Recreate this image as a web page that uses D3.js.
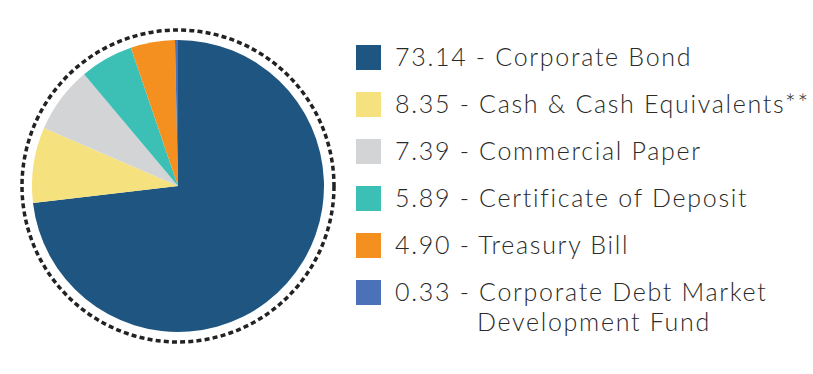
<!DOCTYPE html>
<html>
  <head>
    <script src="https://d3js.org/d3.v7.min.js"></script>
    <style>
      body { margin: 0; background: #fff; }
    </style>
  </head>
  <body>
    <svg id="chart"></svg>
    <script>
      // data
      var labels = [
        "Corporate Bond",
        "Cash & Cash Equivalents**",
        "Commercial Paper",
        "Certificate of Deposit",
        "Treasury Bill",
        "Corporate Debt Market|Development Fund"
      ];
      var values = [73.14, 8.35, 7.39, 5.89, 4.9, 0.33];
      var valueText = ["73.14", "8.35", "7.39", "5.89", "4.90", "0.33"];
      var colors = ["#1f5581", "#f5e27e", "#d3d4d6", "#3cc0b6", "#f3901f", "#4b71b9"];

      var svg = d3.select("#chart").attr("width", 813).attr("height", 374);

      var cx = 178, cy = 186, r = 146;

      var pie = d3.pie().sort(null).value(function (d) { return d; });
      var arc = d3.arc().innerRadius(0).outerRadius(r);

      var g = svg.append("g").attr("transform", "translate(" + cx + "," + cy + ")");

      // dotted ring
      g.append("circle")
        .attr("r", 156)
        .attr("fill", "none")
        .attr("stroke", "#222")
        .attr("stroke-width", 3.5)
        .attr("stroke-dasharray", "5,3.2");

      g.selectAll("path")
        .data(pie(values))
        .enter()
        .append("path")
        .attr("d", arc)
        .attr("fill", function (d, i) { return colors[i]; });

      // legend
      var legend = svg.append("g").attr("transform", "translate(356,58)");
      var row = legend.selectAll("g")
        .data(labels)
        .enter()
        .append("g")
        .attr("transform", function (d, i) { return "translate(0," + i * 47 + ")"; });

      row.append("rect")
        .attr("x", 0)
        .attr("y", -13)
        .attr("width", 25)
        .attr("height", 25)
        .attr("fill", function (d, i) { return colors[i]; });

      var txt = row.append("text")
        .attr("x", 39)
        .attr("y", 8)
        .attr("font-family", "Lato, 'Open Sans', sans-serif")
        .attr("font-weight", 300)
        .attr("font-size", 25)
        .attr("letter-spacing", 1.7)
        .attr("fill", "#2a2a2a");

      txt.each(function (d, i) {
        var parts = d.split("|");
        var t = d3.select(this);
        t.append("tspan").text(valueText[i] + " - " + parts[0]);
        if (parts[1]) {
          t.append("tspan").attr("x", 121).attr("dy", 30).text(parts[1]);
        }
      });
    </script>
  </body>
</html>
